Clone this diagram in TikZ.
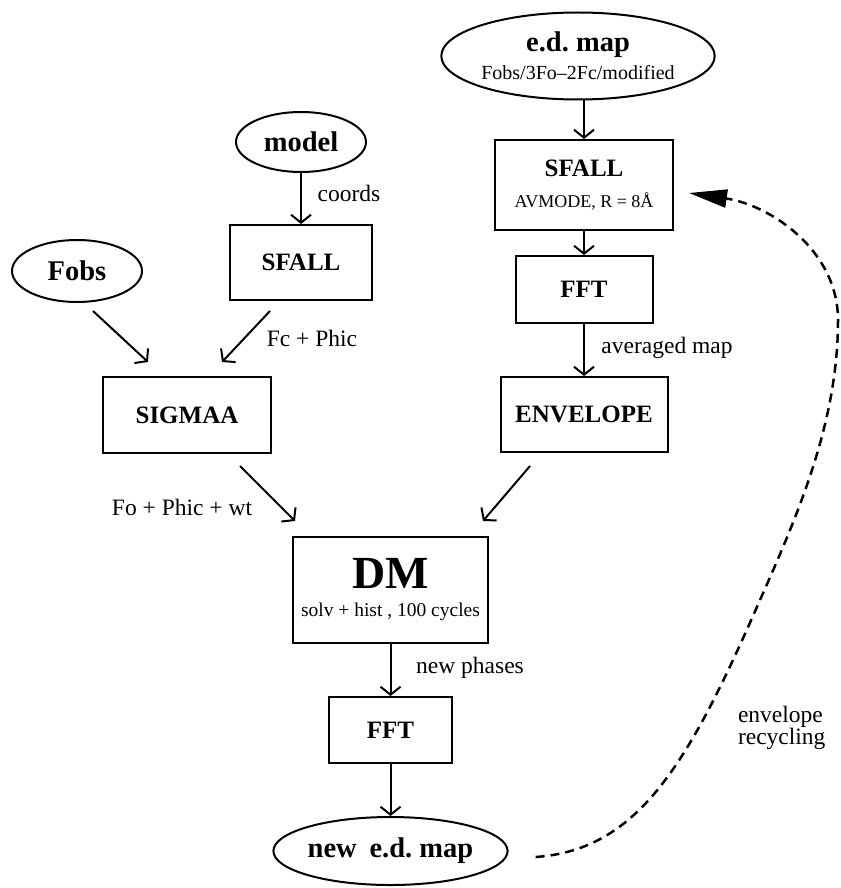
\documentclass[tikz,border=0pt]{standalone}
\usepackage{fontspec}
\setmainfont{Liberation Serif}
\usetikzlibrary{arrows.meta,shapes.geometric,calc}
\begin{document}
\begin{tikzpicture}[x=1pt,y=-1pt,
  line width=2pt,
  ell/.style={draw, ellipse, inner sep=0pt, align=center, font=\fontsize{28.5}{31}\selectfont\bfseries},
  box/.style={draw, rectangle, inner sep=0pt, align=center, font=\fontsize{25}{28}\selectfont\bfseries},
  elab/.style={font=\fontsize{23.5}{22}\selectfont, inner sep=0pt, align=left},
  arr/.style={-{Straight Barb[length=8pt,width=20pt]}},
  recycle/.style={dash pattern=on 9pt off 6pt, line width=2.5pt, -{Triangle[length=38pt,width=18pt]}}
]
\useasboundingbox (0,0) rectangle (840,888);

% right column
\node[ell, minimum width=262pt, minimum height=87pt] (edmap) at (578,56)
  {e.d.\ map\\[-3pt]{\fontsize{20}{22}\selectfont\mdseries Fobs/3Fo–2Fc/modified}};
\node[box, minimum width=178pt, minimum height=90pt] (sfallR) at (584,185)
  {SFALL\\[3pt]{\fontsize{18}{20}\selectfont\mdseries AVMODE, R = 8Å}};
\node[box, minimum width=137pt, minimum height=67pt] (fftR) at (584,289.5) {FFT};
\node[box, minimum width=167pt, minimum height=75pt] (envelope) at (584,414.5) {ENVELOPE};

% left column
\node[ell, minimum width=130pt, minimum height=60pt] (model) at (301,142) {model};
\node[box, minimum width=142pt, minimum height=75pt] (sfallL) at (301,262.5) {SFALL};
\node[ell, minimum width=130pt, minimum height=62pt] (fobs) at (77,271) {Fobs};
\node[box, minimum width=168pt, minimum height=76pt] (sigmaa) at (187,415) {SIGMAA};

% bottom
\node[box, minimum width=195pt, minimum height=106pt] (dm) at (390.5,590)
  {{\fontsize{46}{48}\selectfont DM}\\[0pt]{\fontsize{19.5}{22}\selectfont\mdseries solv + hist , 100 cycles}};
\node[box, minimum width=123pt, minimum height=66pt] (fftB) at (390.5,730) {FFT};
\node[ell, minimum width=214pt, minimum height=68pt] (newmap) at (390.5,851) {new\hspace{0.45em}e.d.\ map};

% connectors
\draw[arr] (model) -- (sfallL);
\draw[arr] (edmap.south -| sfallR.north) -- (sfallR);
\draw[arr] (sfallR) -- (fftR);
\draw[arr] (fftR) -- (envelope);
\draw[arr] (dm) -- (fftB);
\draw[arr] (fftB) -- (newmap);
\draw[arr] ($(fobs.south)+(16,8)$) -- ($(sigmaa.north)+(-39,-14)$);
\draw[arr] ($(sfallL.south)+(-31,10)$) -- ($(sigmaa.north)+(35,-14)$);
\draw[arr] ($(sigmaa.south)+(53,12)$) -- ($(dm.north)+(-95.5,-15)$);
\draw[arr] ($(envelope.south)+(-54,13)$) -- ($(dm.north)+(92.5,-15)$);

\draw[recycle] ($(newmap.east)+(27,6)$) .. controls (640,850) and (690,760) .. (760,600)
  .. controls (800,510) and (838,420) .. (838,320)
  .. controls (838,250) and (770,205) .. ($(sfallR.east)+(15,8)$);

% labels
\node[elab] (lcoords) at (349,193) {coords};
\node[elab] (lfc) at (312,338) {Fc + Phic};
\node[elab] (lavg) at (667,348) {averaged map};
\node[elab] (lfo) at (182,507) {Fo + Phic + wt};
\node[elab] (lnew) at (470,668) {new phases};
\node[elab, anchor=west] (lenv) at (737,728) {envelope\\recycling};
\end{tikzpicture}
\end{document}
